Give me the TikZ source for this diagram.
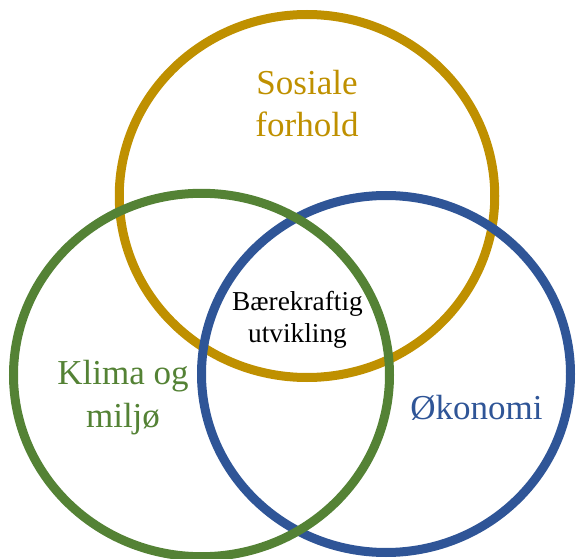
\documentclass[tikz,border=0pt]{standalone}
\usepackage{fontspec}
\setmainfont{Liberation Serif}
\usepackage{xcolor}
\usepackage{tikz}

\definecolor{gull}{RGB}{191,144,0}
\definecolor{gronn}{RGB}{84,130,53}
\definecolor{blaa}{RGB}{47,85,151}

\begin{document}
\begin{tikzpicture}[x=0.75pt,y=0.75pt,
    ring/.style={line width=6.75pt},
    big/.style={font=\fontsize{26.25}{32.25}\selectfont, align=center, anchor=base},
    small/.style={font=\fontsize{20.5}{24.75}\selectfont, align=center, anchor=base}]
    \useasboundingbox (0,0) rectangle (579,558);

    \draw[ring,color=gull] (307,362) ellipse [x radius=187.75, y radius=181.5];
    \draw[ring,color=blaa] (386,184) ellipse [x radius=184.5, y radius=178.5];
    \draw[ring,color=gronn] (201.5,183) ellipse [x radius=188, y radius=181.7];

    \node[big,color=gull] (sosial) at (307,421) {Sosiale\\forhold};
    \node[big,color=gronn] (klima) at (123,131) {Klima og\\milj\o};
    \node[big,color=blaa] (okonomi) at (476.5,139) {\O konomi};
    \node[small] (baerekraft) at (297.5,215) {B\ae rekraftig\\utvikling};
\end{tikzpicture}
\end{document}
